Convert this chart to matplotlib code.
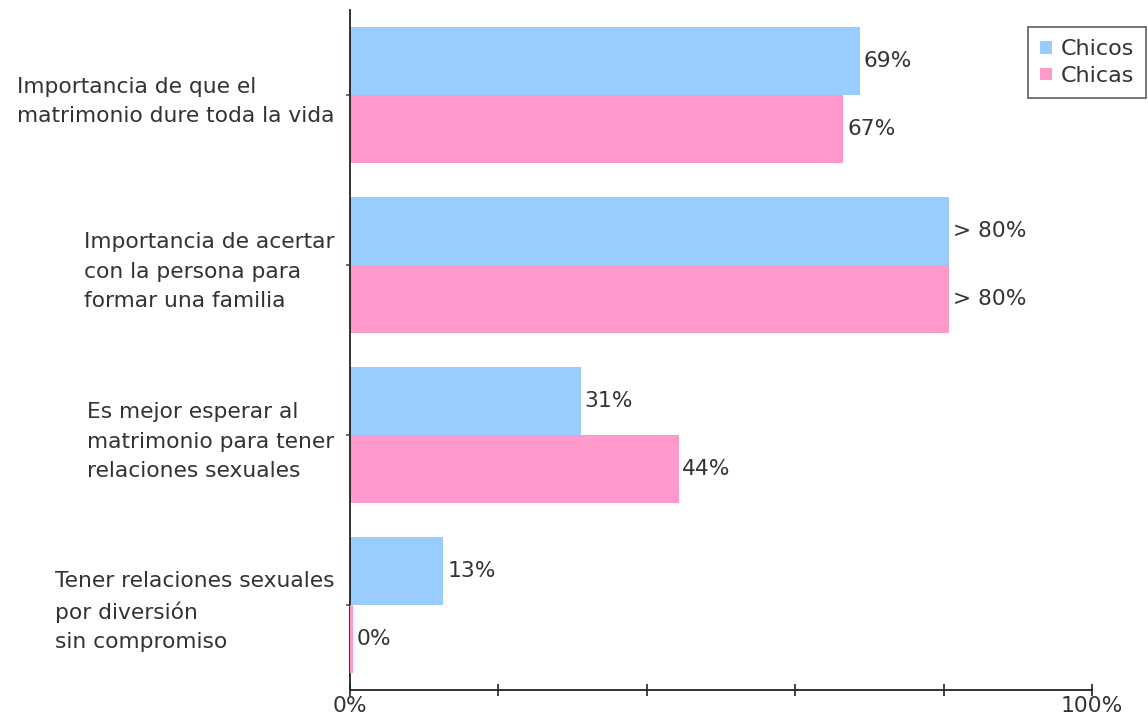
import matplotlib
matplotlib.use("Agg")
import matplotlib.pyplot as plt
import numpy as np

categories = [
    "Importancia de que el\nmatrimonio dure toda la vida",
    "Importancia de acertar\ncon la persona para\nformar una familia",
    "Es mejor esperar al\nmatrimonio para tener\nrelaciones sexuales",
    "Tener relaciones sexuales\npor diversión\nsin compromiso",
]
chicos = [68.7, 80.7, 31.1, 12.6]
chicas = [66.5, 80.7, 44.3, 0.0]
chicos_labels = ["69%", "> 80%", "31%", "13%"]
chicas_labels = ["67%", "> 80%", "44%", "0%"]
xticks = [0, 20, 40, 60, 80, 100]
xticklabels = ["0%", "", "", "", "", "100%"]

blue = "#99CCFF"
pink = "#FF99CC"
txt = "#333333"
fs = 15.7

plt.rcParams['font.family'] = ['DejaVu Sans']
fig = plt.figure(figsize=(11.48, 7.19), dpi=100)
ax = fig.add_axes([350/1148, 1 - 690/719, 742/1148, 680/719])

y = np.arange(len(categories))
h = 0.4
ax.barh(y - h/2, chicos, height=h, color=blue, label="Chicos")
ax.barh(y + h/2, chicas, height=h, color=pink, label="Chicas")
# zero-value bars are shown as a thin sliver
for yi, v in zip(y, chicas):
    if v == 0:
        ax.barh(yi + h/2, 0.4, height=h, color=pink, zorder=3)

for yi, v, lab in zip(y, chicos, chicos_labels):
    ax.text(v + 0.5, yi - h/2, lab, va="center", ha="left", fontsize=fs, color=txt)
for yi, v, lab in zip(y, chicas, chicas_labels):
    ax.text(max(v, 0.4) + 0.5, yi + h/2, lab, va="center", ha="left", fontsize=fs, color=txt)

ax.set_ylim(3.5, -0.5)
ax.set_xlim(0, 100)
ax.set_yticks(y)
ax.set_yticklabels(categories, fontsize=fs, color=txt, multialignment="left", linespacing=1.58)
ax.set_xticks(xticks)
ax.set_xticklabels(xticklabels, fontsize=fs, color=txt)
ax.tick_params(axis="x", direction="inout", length=8, width=1.2, color="#222222", pad=0)
ax.tick_params(axis="y", direction="out", length=3, width=1.2, color="#555555", pad=8.5)

for s in ["top", "right"]:
    ax.spines[s].set_visible(False)
for s in ["left", "bottom"]:
    ax.spines[s].set_color("#222222")
    ax.spines[s].set_linewidth(1.3)
    ax.spines[s].set_zorder(2.5)

leg = ax.legend(loc="upper right", bbox_to_anchor=(1146/1148, 1 - 27/719), bbox_transform=fig.transFigure,
                fontsize=16, frameon=True, fancybox=False, handlelength=0.5, handleheight=0.5,
                handletextpad=0.4, borderpad=0.55, labelspacing=0.3, borderaxespad=0)
leg.get_frame().set_edgecolor("#333333")
leg.get_frame().set_linewidth(1.2)
for t in leg.get_texts():
    t.set_color(txt)

fig.savefig("out.png", dpi=100)
